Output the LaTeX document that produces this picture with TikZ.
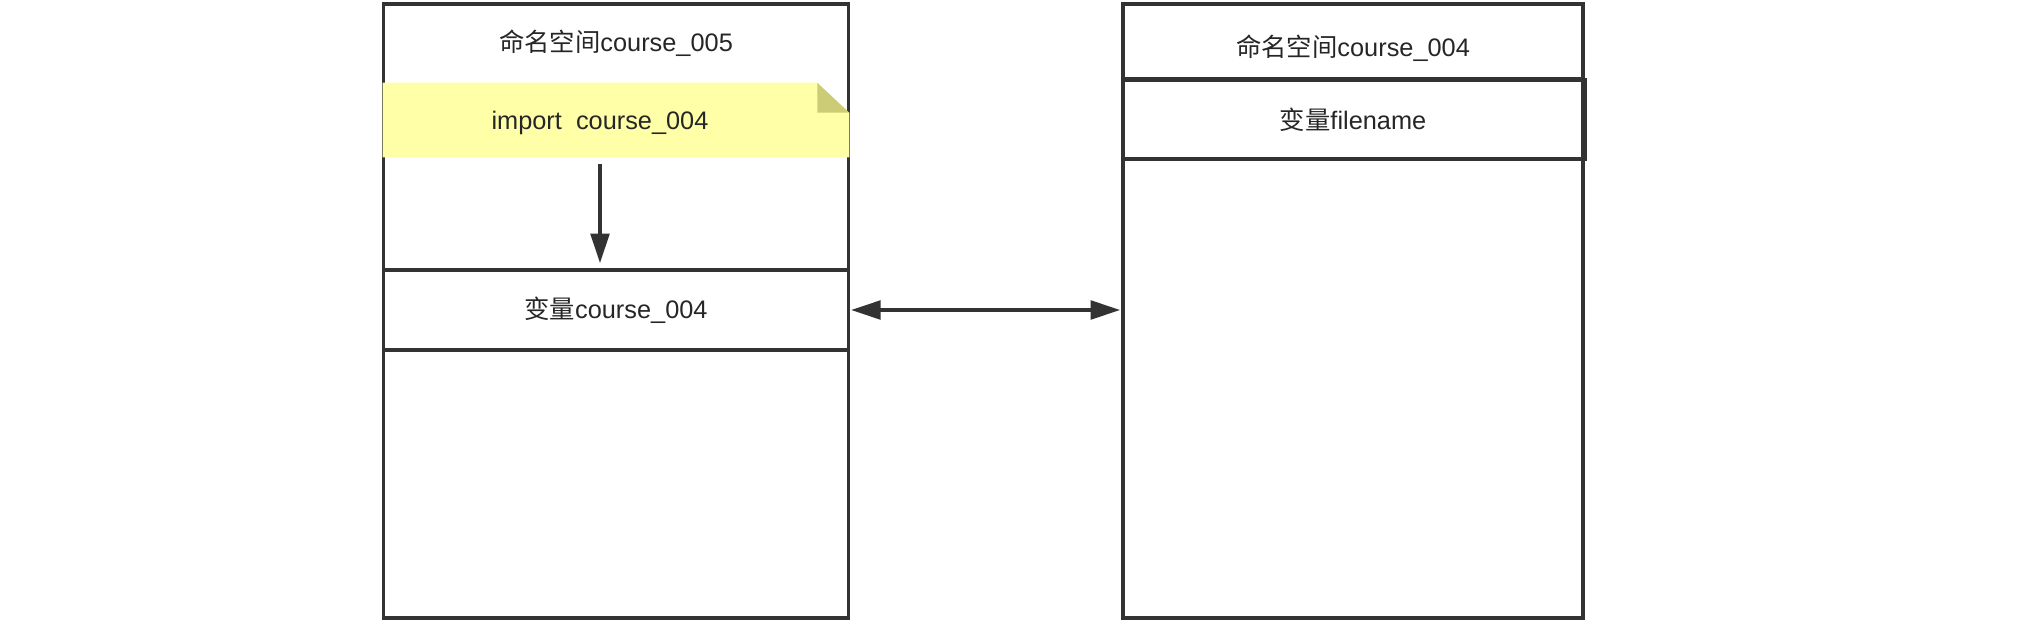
\documentclass[tikz,border=0pt]{standalone}
\usepackage{fontspec}
\setmainfont{Liberation Sans}
\newfontfamily\cjk{Noto Sans CJK SC}
\usetikzlibrary{arrows.meta,positioning}

\definecolor{linegray}{HTML}{333333}
\definecolor{notefill}{HTML}{FFFFA8}
\definecolor{foldfill}{HTML}{CCCC77}

\tikzset{
  box/.style={draw=linegray, line width=2.4pt, inner sep=0pt},
  lbl/.style={font=\fontsize{19}{23}\selectfont, text=black!85, inner sep=0pt},
  arr/.style={-{Triangle[length=22pt,width=14pt]}, draw=linegray, line width=2.4pt},
  dblarr/.style={{Triangle[length=22pt,width=14pt]}-{Triangle[length=22pt,width=14pt]}, draw=linegray, line width=2.4pt},
}

\begin{document}
\begin{tikzpicture}[x=0.75pt,y=-0.75pt]

  \useasboundingbox (0,0) rectangle (2018,622);

  % namespace course_005
  \node[box, minimum width=348.4pt, minimum height=460.5pt] (ns5) at (616,311) {};
  \node[lbl] (t5) at (616,43) {{\cjk 命名空间}course\_005};

  \node[inner sep=0pt, minimum width=325.5pt, minimum height=55.5pt] (imp) at (600,120) {};
  \fill[notefill] (imp.north east) -- ++(32,30) |- (imp.south east) -| (imp.north west) -- cycle;
  \fill[foldfill] (imp.north east) -- ++(0,30) -- ++(32,0) -- cycle;
  \node[lbl] at ([yshift=-2pt]imp.center) {import~~course\_004};

  \node[box, minimum width=348.4pt, minimum height=60pt] (v5) at (616,310)
    [lbl] {{\cjk 变量}course\_004};

  % namespace course_004
  \node[box, minimum width=345pt, minimum height=460.5pt] (ns4) at (1353,311) {};
  \node[box, minimum width=345pt, minimum height=56.25pt] (t4) at (1353,41.5) {};
  \node[lbl] at (1353,48) {{\cjk 命名空间}course\_004};
  \node[box, minimum width=347pt, minimum height=59.25pt] (vf) at (1354,119.5) {};
  \node[lbl] at (1353,120) {{\cjk 变量}filename};

  % connectors
  \draw[arr, shorten <=5pt, shorten >=4pt] (imp.south) -- (imp.south |- v5.north);
  \draw[dblarr, shorten <=1pt, shorten >=1pt] (v5.east) -- (v5.east -| ns4.west);

\end{tikzpicture}
\end{document}
